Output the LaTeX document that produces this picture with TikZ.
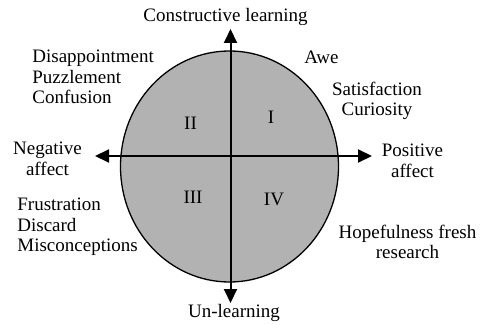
\documentclass[tikz,border=0pt]{standalone}
\usepackage{fontspec}
\setmainfont{Liberation Serif}
\usetikzlibrary{arrows.meta}

\begin{document}
\begin{tikzpicture}[x=0.5pt, y=-0.5pt, font=\fontsize{9.5}{10.25}\selectfont,
    axis/.style={line width=1pt, {Triangle[length=7pt,width=6.5pt]}-{Triangle[length=7pt,width=6.5pt]}},
    lbl/.style={inner sep=0pt, align=center}]
    \useasboundingbox (0,0) rectangle (480,325);

    \draw[fill=black!30, line width=0.65pt] (229.5,166.5) ellipse [x radius=109, y radius=115.5];

    \coordinate (Top) at (230.5,29);
    \coordinate (Bottom) at (230.5,303);
    \coordinate (Left) at (95,156);
    \coordinate (Right) at (372,156);
    \draw[axis] (Top) -- (Bottom);
    \draw[axis] (Left) -- (Right);

    \node[lbl] (CL) at (225.5,17) {Constructive learning};
    \node[lbl] (UL) at (234,313) {Un-learning};
    \node[lbl] (NA) at (47.5,159) {Negative\\affect};
    \node[lbl] (PA) at (412.5,161) {Positive\\affect};

    \node[lbl] (QI) at (271,117.5) {I};
    \node[lbl] (QII) at (190.5,123) {II};
    \node[lbl] (QIII) at (193,197.5) {III};
    \node[lbl] (QIV) at (274,199) {IV};

    \node[lbl, align=left, anchor=west] (DPC) at (32,77) {Disappointment\\Puzzlement\\Confusion};
    \node[lbl, align=left, anchor=west] (FDM) at (17,227) {Frustration\\Discard\\Misconceptions};
    \node[lbl] (Awe) at (321.5,57) {Awe};
    \node[lbl] (SC) at (377,101) {Satisfaction\\Curiosity};
    \node[lbl] (HFR) at (407.5,242) {Hopefulness fresh\\research};
\end{tikzpicture}
\end{document}
